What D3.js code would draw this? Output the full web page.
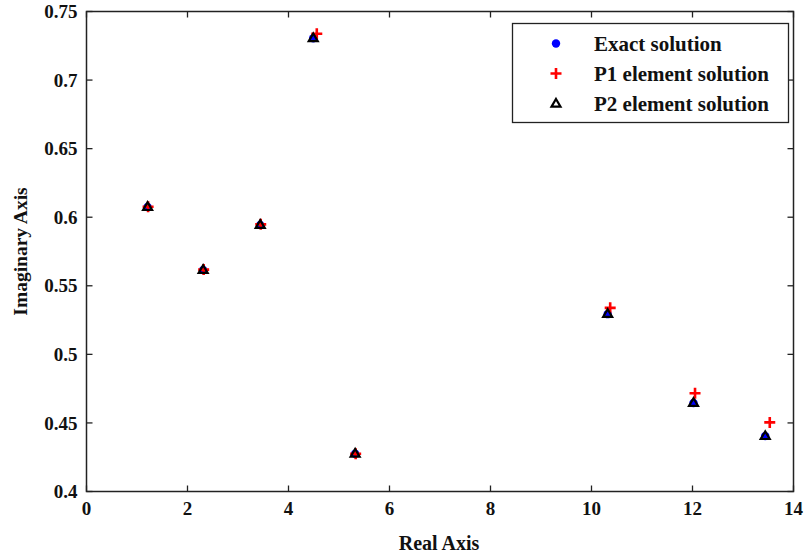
<!DOCTYPE html>
<html>
<head>
<meta charset="utf-8">
<script src="https://cdn.jsdelivr.net/npm/d3@7"></script>
<style>
  body { margin: 0; background: #fff; }
  text { font-family: "Liberation Serif", "Times New Roman", serif; font-weight: bold; fill: #111; }
</style>
</head>
<body>
<svg id="chart" width="806" height="559"></svg>
<script>
// Eigenvalue locations (real part, imaginary part)
const exactRe = [1.21, 2.31, 3.44, 4.49, 5.32, 10.32, 12.02, 13.44];
const exactIm = [0.6074, 0.5615, 0.5944, 0.7305, 0.4275, 0.5293, 0.4645, 0.4404];
const p1Re = [1.22, 2.32, 3.45, 4.56, 5.33, 10.37, 12.05, 13.53];
const p1Im = [0.6076, 0.5618, 0.5948, 0.7338, 0.4275, 0.5339, 0.4716, 0.4504];
const p2Re = [1.21, 2.31, 3.44, 4.49, 5.32, 10.32, 12.02, 13.44];
const p2Im = [0.6076, 0.5617, 0.5946, 0.7307, 0.4277, 0.5296, 0.4647, 0.4406];
const xTicks = [0, 2, 4, 6, 8, 10, 12, 14];
const yTicks = [0.4, 0.45, 0.5, 0.55, 0.6, 0.65, 0.7, 0.75];
const seriesNames = ["Exact solution", "P1 element solution", "P2 element solution"];

const svg = d3.select("#chart");
const L = 86.5, R = 793.5, T = 11.5, B = 491.5;
const x = d3.scaleLinear().domain([0, 14]).range([L, R]);
const y = d3.scaleLinear().domain([0.4, 0.75]).range([B, T]);

const tickLen = 6;
const axisColor = "#222";

// inward ticks on all four sides
const g = svg.append("g");
xTicks.forEach(t => {
  g.append("line").attr("x1", x(t)).attr("x2", x(t)).attr("y1", B).attr("y2", B - tickLen)
    .attr("stroke", axisColor).attr("stroke-width", 1.3);
  g.append("line").attr("x1", x(t)).attr("x2", x(t)).attr("y1", T).attr("y2", T + tickLen)
    .attr("stroke", axisColor).attr("stroke-width", 1.3);
  g.append("text").attr("x", x(t)).attr("y", B + 23).attr("text-anchor", "middle")
    .attr("font-size", 19).text(d3.format("d")(t));
});
yTicks.forEach(t => {
  g.append("line").attr("x1", L).attr("x2", L + tickLen).attr("y1", y(t)).attr("y2", y(t))
    .attr("stroke", axisColor).attr("stroke-width", 1.3);
  g.append("line").attr("x1", R).attr("x2", R - tickLen).attr("y1", y(t)).attr("y2", y(t))
    .attr("stroke", axisColor).attr("stroke-width", 1.3);
  g.append("text").attr("x", L - 9).attr("y", y(t)).attr("dy", "0.35em").attr("text-anchor", "end")
    .attr("font-size", 19).text(String(+t.toFixed(2)));
});
g.append("rect").attr("x", L).attr("y", T).attr("width", R - L).attr("height", B - T)
  .attr("fill", "none").attr("stroke", axisColor).attr("stroke-width", 1.5);

// axis titles
svg.append("text").attr("x", (L + R) / 2 - 1).attr("y", 550).attr("text-anchor", "middle")
  .attr("font-size", 20).text("Real Axis");
svg.append("text").attr("transform", `translate(27,${(T + B) / 2}) rotate(-90)`)
  .attr("text-anchor", "middle").attr("font-size", 19.5).text("Imaginary Axis");

// marker painters
function dot(sel, cx, cy) {
  sel.append("circle").attr("cx", cx).attr("cy", cy).attr("r", 4.2).attr("fill", "#0000ff");
}
function plus(sel, cx, cy) {
  sel.append("path").attr("d", `M${cx - 5.5},${cy}H${cx + 5.5}M${cx},${cy - 5.5}V${cy + 5.5}`)
    .attr("stroke", "#ff0000").attr("stroke-width", 2.6).attr("fill", "none");
}
function tri(sel, cx, cy) {
  sel.append("path").attr("d", `M${cx},${cy - 4.5}L${cx + 4.5},${cy + 3.2}L${cx - 4.5},${cy + 3.2}Z`)
    .attr("stroke", "#000").attr("stroke-width", 2.2).attr("fill", "none").attr("stroke-linejoin", "miter");
}

const marks = svg.append("g");
exactRe.forEach((v, i) => dot(marks, x(v), y(exactIm[i])));
p1Re.forEach((v, i) => plus(marks, x(v), y(p1Im[i])));
p2Re.forEach((v, i) => tri(marks, x(v), y(p2Im[i])));

// legend
const lg = svg.append("g");
lg.append("rect").attr("x", 512.5).attr("y", 23.5).attr("width", 276).attr("height", 99)
  .attr("fill", "#fff").attr("stroke", axisColor).attr("stroke-width", 1.3);
const painters = [dot, plus, tri];
seriesNames.forEach((name, i) => {
  const cy = 43.5 + i * 30;
  painters[i](lg, 556, cy);
  lg.append("text").attr("x", 594).attr("y", cy).attr("dy", "0.35em").attr("font-size", 21)
    .text(name);
});
</script>
</body>
</html>
